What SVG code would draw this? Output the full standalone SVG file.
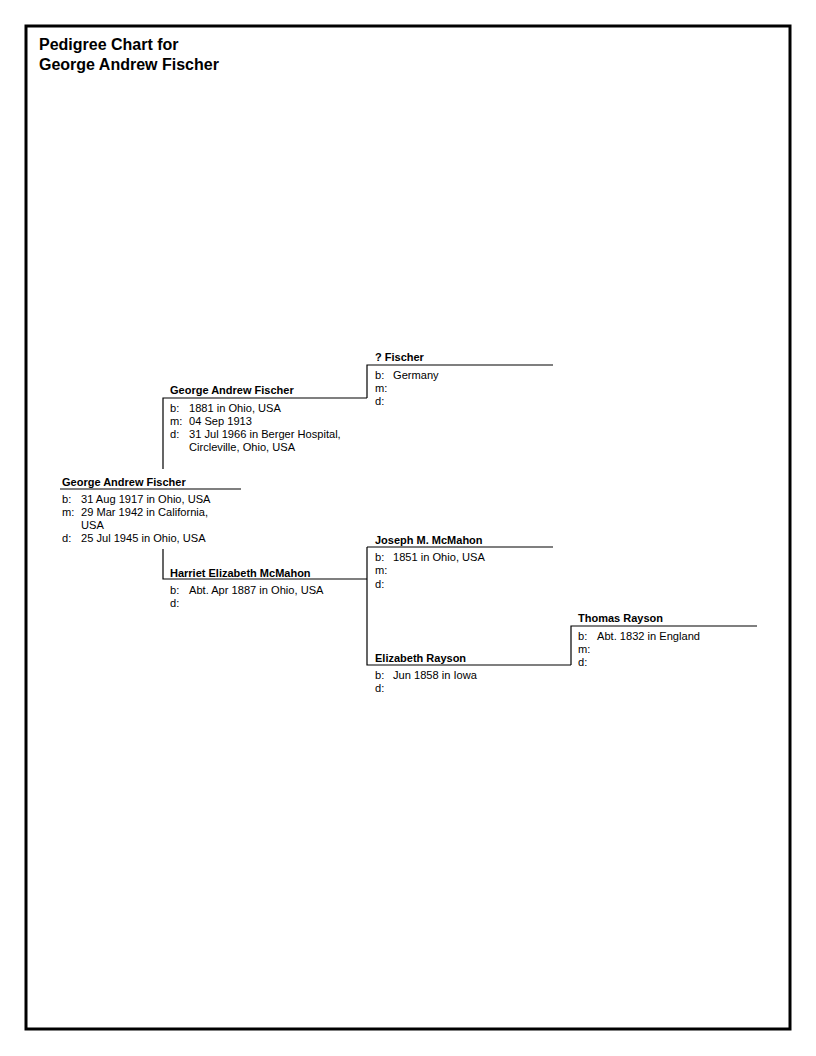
<svg xmlns="http://www.w3.org/2000/svg" width="816" height="1056" viewBox="0 0 816 1056">
<style>
.t{font-family:"Liberation Sans",Arial,sans-serif;font-size:16px;font-weight:bold;fill:#000}
.n{font-family:"Liberation Sans",Arial,sans-serif;font-size:11px;font-weight:bold;fill:#000}
.d{font-family:"Liberation Sans",Arial,sans-serif;font-size:11.1px;fill:#000}
.l{stroke:#000;stroke-width:1.2;fill:none}
</style>
<rect x="0" y="0" width="816" height="1056" fill="#fff"/>
<rect x="26" y="26" width="764" height="1003" fill="none" stroke="#000" stroke-width="3"/>
<g id="title">
<text class="t" x="39" y="50">Pedigree Chart for</text>
<text class="t" x="39" y="70">George Andrew Fischer</text>
</g>
<g id="connectors">
<path class="l" d="M60,489H241"/>
<path class="l" d="M163,469V398H367"/>
<path class="l" d="M163,549V579H367"/>
<path class="l" d="M367,398V365H553"/>
<path class="l" d="M367,547H553M367,547V665H571"/>
<path class="l" d="M571,665V626H757"/>
</g>
<g id="root">
<text class="n" x="62" y="486">George Andrew Fischer</text>
<text class="d" x="62" y="503">b:</text><text class="d" x="81" y="503">31 Aug 1917 in Ohio, USA</text>
<text class="d" x="62" y="516">m:</text><text class="d" x="81" y="516">29 Mar 1942 in California,</text>
<text class="d" x="81" y="529">USA</text>
<text class="d" x="62" y="542">d:</text><text class="d" x="81" y="542">25 Jul 1945 in Ohio, USA</text>
</g>
<g id="father">
<text class="n" x="170" y="394">George Andrew Fischer</text>
<text class="d" x="170" y="412">b:</text><text class="d" x="189" y="412">1881 in Ohio, USA</text>
<text class="d" x="170" y="425">m:</text><text class="d" x="189" y="425">04 Sep 1913</text>
<text class="d" x="170" y="438">d:</text><text class="d" x="189" y="438">31 Jul 1966 in Berger Hospital,</text>
<text class="d" x="189" y="451">Circleville, Ohio, USA</text>
</g>
<g id="mother">
<text class="n" x="170" y="577">Harriet Elizabeth McMahon</text>
<text class="d" x="170" y="594">b:</text><text class="d" x="189" y="594">Abt. Apr 1887 in Ohio, USA</text>
<text class="d" x="170" y="607">d:</text>
</g>
<g id="ff">
<text class="n" x="375" y="361">? Fischer</text>
<text class="d" x="375" y="379">b:</text><text class="d" x="393" y="379">Germany</text>
<text class="d" x="375" y="392">m:</text>
<text class="d" x="375" y="405">d:</text>
</g>
<g id="mf">
<text class="n" x="375" y="544">Joseph M. McMahon</text>
<text class="d" x="375" y="561">b:</text><text class="d" x="393" y="561">1851 in Ohio, USA</text>
<text class="d" x="375" y="574">m:</text>
<text class="d" x="375" y="588">d:</text>
</g>
<g id="mm">
<text class="n" x="375" y="662">Elizabeth Rayson</text>
<text class="d" x="375" y="679">b:</text><text class="d" x="393" y="679">Jun 1858 in Iowa</text>
<text class="d" x="375" y="692">d:</text>
</g>
<g id="mmf">
<text class="n" x="578" y="622">Thomas Rayson</text>
<text class="d" x="578" y="640">b:</text><text class="d" x="597" y="640">Abt. 1832 in England</text>
<text class="d" x="578" y="653">m:</text>
<text class="d" x="578" y="666">d:</text>
</g>
</svg>
